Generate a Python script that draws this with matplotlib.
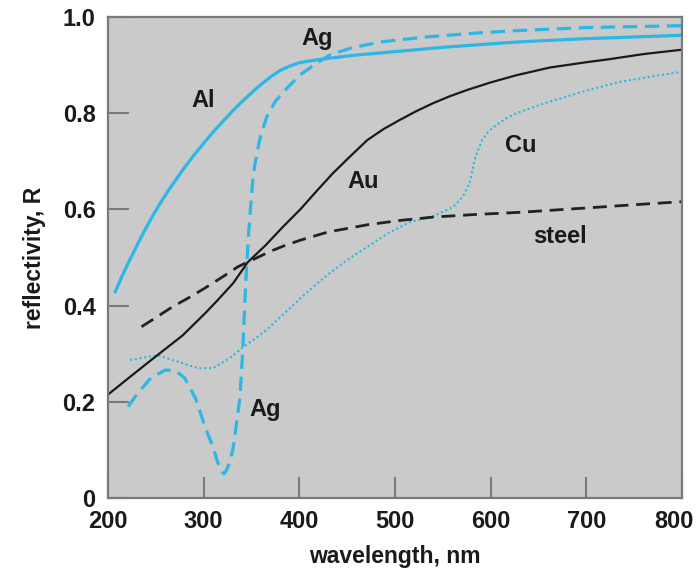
import numpy as np
import matplotlib
matplotlib.use('Agg')
import matplotlib.pyplot as plt
import matplotlib.transforms as mtransforms

plt.rcParams['font.family'] = ['Liberation Sans', 'DejaVu Sans']
plt.rcParams['font.weight'] = 'bold'

# Reflectivity curves (wavelength in nm, R)
al_wl = [207, 214, 220, 231, 238, 246, 254, 262, 271, 280, 290, 301, 310, 320, 330, 340, 352, 362, 371, 380,
         390, 400, 412, 430, 460, 500, 550, 627, 700, 800]
al_r = [0.426, 0.458, 0.484, 0.528, 0.555, 0.584, 0.611, 0.636, 0.662, 0.687, 0.713, 0.74, 0.761, 0.783, 0.804,
        0.824, 0.846, 0.863, 0.877, 0.889, 0.898, 0.905, 0.909, 0.914, 0.921, 0.928, 0.937, 0.948, 0.955, 0.962]

ag_wl = [221, 230, 245, 260, 270, 280, 292, 301, 310, 314, 318, 321, 324, 328, 331, 338, 341, 344, 347, 350, 352,
         356, 359, 366, 375, 387, 401, 418, 432, 453, 484, 530, 580, 631, 700, 800]
ag_r = [0.19, 0.215, 0.25, 0.266, 0.265, 0.25, 0.205, 0.15, 0.105, 0.078, 0.058, 0.05, 0.058, 0.08, 0.106, 0.21,
        0.314, 0.45, 0.55, 0.63, 0.675, 0.72, 0.748, 0.793, 0.825, 0.852, 0.88, 0.904, 0.921, 0.935, 0.948, 0.958,
        0.966, 0.972, 0.978, 0.982]

au_wl = [200, 220, 244, 260, 278, 301, 314, 331, 346, 365, 382, 401, 418, 435, 453, 471, 488, 505, 522, 540,
         557, 575, 600, 627, 662, 700, 723, 760, 800]
au_r = [0.215, 0.247, 0.285, 0.31, 0.338, 0.383, 0.41, 0.447, 0.49, 0.526, 0.562, 0.6, 0.638, 0.675, 0.71, 0.744,
        0.767, 0.786, 0.804, 0.821, 0.835, 0.848, 0.864, 0.879, 0.895, 0.906, 0.912, 0.923, 0.932]

steel_wl = [235, 250, 267, 285, 301, 320, 336, 354, 370, 385, 401, 430, 471, 505, 540, 580, 631, 700, 760, 800]
steel_r = [0.356, 0.375, 0.397, 0.417, 0.436, 0.46, 0.481, 0.498, 0.513, 0.525, 0.536, 0.553, 0.568, 0.577,
           0.584, 0.589, 0.594, 0.603, 0.611, 0.616]

cu_wl = [223, 240, 252, 270, 294, 310, 319, 330, 340, 353, 366, 385, 401, 425, 450, 471, 495, 516, 540, 561,
         571, 578, 584, 591, 597, 603, 615, 627, 645, 665, 700, 735, 770, 800]
cu_r = [0.287, 0.293, 0.297, 0.285, 0.27, 0.27, 0.281, 0.295, 0.312, 0.33, 0.35, 0.385, 0.415, 0.457, 0.495,
        0.522, 0.553, 0.574, 0.586, 0.605, 0.627, 0.655, 0.709, 0.744, 0.76, 0.771, 0.788, 0.8, 0.813, 0.826,
        0.847, 0.865, 0.877, 0.886]

# label text and where it sits (wavelength, R)
labels = ['Al', 'Ag', 'Au', 'Cu', 'steel', 'Ag']
label_wl = [299, 419, 467, 631, 672, 364]
label_r = [0.827, 0.956, 0.657, 0.732, 0.543, 0.183]

blue = '#2cb7e6'
bg = '#cacaca'
spine = '#7a7a7a'

fig = plt.figure(figsize=(7.0, 5.77), dpi=100)
ax = fig.add_axes([108 / 700, 79 / 577, 574 / 700, 481 / 577])
ax.set_facecolor(bg)

ax.plot(al_wl, al_r, color=blue, lw=2.3, solid_capstyle='butt')
ax.plot(ag_wl, ag_r, color=blue, lw=2.3, dashes=(4.5, 2.4))
ax.plot(cu_wl, cu_r, color=blue, lw=1.5, dashes=(1.0, 1.3))
ax.plot(au_wl, au_r, color='#1a1a1a', lw=1.6)
ax.plot(steel_wl, steel_r, color='#222222', lw=2.0, dashes=(5, 2.8))

for txt, x, y in zip(labels, label_wl, label_r):
    ax.text(x, y, txt, ha='center', va='center', fontsize=17, fontweight='bold', color='#1a1a1a')

ax.set_xlim(200, 800)
ax.set_ylim(0, 1.0)
ax.set_xticks([200, 300, 400, 500, 600, 700, 800])
ax.set_yticks([0, 0.2, 0.4, 0.6, 0.8, 1.0])
ax.set_yticklabels(['0', '0.2', '0.4', '0.6', '0.8', '1.0'])

for s in ax.spines.values():
    s.set_color(spine)
    s.set_linewidth(1.6)

ax.tick_params(direction='in', length=15, width=1.5, color=spine, labelsize=17, pad=9)
for lab in ax.get_xticklabels() + ax.get_yticklabels():
    lab.set_fontweight('bold')
    lab.set_color('#1a1a1a')

# last x label is pulled in a little so it stays inside the figure
shift = mtransforms.ScaledTranslation(-8 / 100, 0, fig.dpi_scale_trans)
last = ax.get_xticklabels()[-1]
last.set_transform(last.get_transform() + shift)

ax.set_xlabel('wavelength, nm', fontsize=16.5, fontweight='bold', color='#1a1a1a', labelpad=8)
ax.set_ylabel('reflectivity, R', fontsize=16.5, fontweight='bold', color='#1a1a1a', labelpad=12)

fig.savefig('out.png', dpi=100, facecolor='white')
